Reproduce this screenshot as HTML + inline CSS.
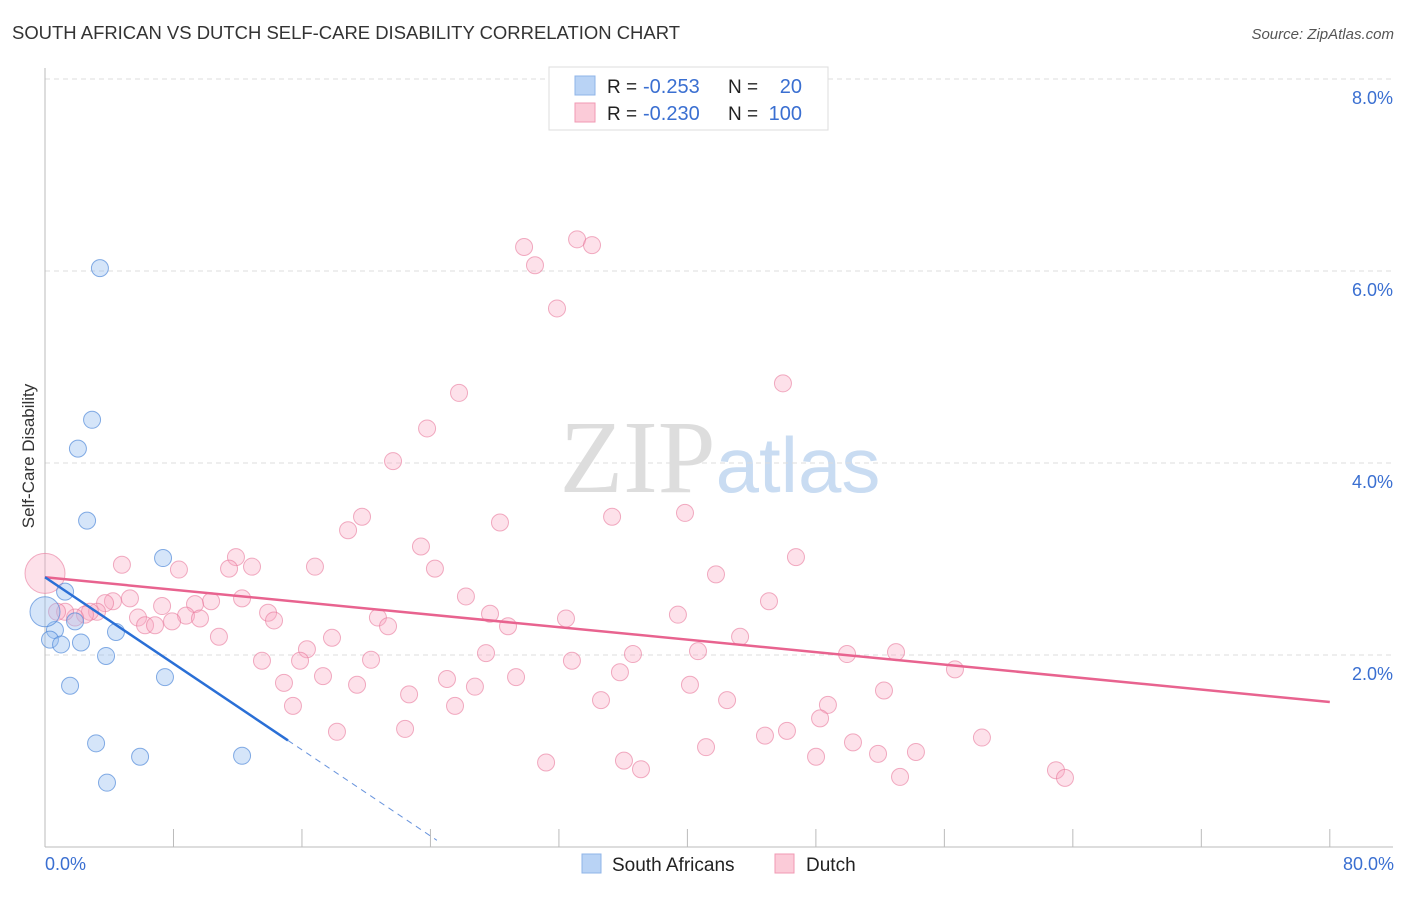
<!DOCTYPE html>
<html><head><meta charset="utf-8"><style>
body{margin:0;background:#fff;font-family:"Liberation Sans",sans-serif;}
</style></head><body>
<svg id="chart" width="1406" height="892" xmlns="http://www.w3.org/2000/svg" font-family="Liberation Sans, sans-serif">
<text x="12" y="39" font-size="18" fill="#333" textLength="668" lengthAdjust="spacingAndGlyphs">SOUTH AFRICAN VS DUTCH SELF-CARE DISABILITY CORRELATION CHART</text>
<text x="1394" y="39" font-size="15" fill="#555" font-style="italic" text-anchor="end">Source: ZipAtlas.com</text>
<text x="720" y="492" text-anchor="middle" font-size="104"><tspan font-family="Liberation Serif, serif" fill="#ddd">ZIP</tspan><tspan fill="#c9dcf2" font-size="78">atlas</tspan></text>
<text transform="translate(34,456) rotate(-90)" text-anchor="middle" font-size="17" fill="#333">Self-Care Disability</text>
<g id="grid"></g>
<g id="axes"></g>
<g id="marks"></g>
<g>
<rect x="549" y="67" width="279" height="63" fill="#fff" stroke="#ddd"/>
<rect x="575" y="76" width="20" height="19" fill="#b9d3f5" stroke="#8fb5e8"/>
<rect x="575" y="103" width="20" height="19" fill="#fbcbd8" stroke="#f09ab3"/>
<text x="607" y="93" font-size="19" fill="#222">R =</text>
<text x="643" y="93" font-size="20" fill="#3a6fd1">-0.253</text>
<text x="728" y="93" font-size="19" fill="#222">N =</text>
<text x="802" y="93" font-size="20" fill="#3a6fd1" text-anchor="end">20</text>
<text x="607" y="120" font-size="19" fill="#222">R =</text>
<text x="643" y="120" font-size="20" fill="#3a6fd1">-0.230</text>
<text x="728" y="120" font-size="19" fill="#222">N =</text>
<text x="802" y="120" font-size="20" fill="#3a6fd1" text-anchor="end">100</text>
</g>
<g>
<rect x="582" y="854" width="19" height="19" fill="#b9d3f5" stroke="#8fb5e8"/>
<text x="612" y="871" font-size="19" fill="#222">South Africans</text>
<rect x="775" y="854" width="19" height="19" fill="#fbcbd8" stroke="#f09ab3"/>
<text x="806" y="871" font-size="19" fill="#222">Dutch</text>
</g>
</svg>
<script>
const yTicks=[2,4,6,8];
const yTickLabels=["2.0%","4.0%","6.0%","8.0%"];
const xTicks=[0,8,16,24,32,40,48,56,64,72,80];
const xEndLabels=["0.0%","80.0%"];
const saX=[3.42,2.93,2.05,2.62,7.35,1.25,1.87,0.62,0.31,1.0,2.24,4.42,3.80,1.56,7.47,3.18,5.92,12.27,3.86,0];
const saY=[6.03,4.45,4.15,3.40,3.01,2.66,2.35,2.26,2.16,2.11,2.13,2.24,1.99,1.68,1.77,1.08,0.94,0.95,0.67,2.45];
const saR=[8.5,8.5,8.5,8.5,8.5,8.5,8.5,8.5,8.5,8.5,8.5,8.5,8.5,8.5,8.5,8.5,8.5,8.5,8.5,15];
const duX=[29.83,30.51,33.13,34.06,31.88,45.95,25.78,23.79,21.67,19.74,18.87,28.33,35.31,39.85,23.41,46.76,11.89,12.89,11.46,8.34,4.79,16.81,24.28,41.78,45.08,26.21,12.27,10.34,5.29,4.23,3.74,7.29,9.34,27.71,39.41,32.44,20.73,13.89,14.26,5.79,8.78,9.65,6.23,6.85,7.91,21.36,28.83,10.83,17.87,43.28,16.31,27.46,36.61,40.66,49.94,52.99,56.66,13.51,15.88,20.30,32.81,35.80,17.31,29.33,25.03,26.77,14.88,19.43,40.16,52.24,22.67,34.62,42.47,15.44,25.53,48.75,48.26,22.42,18.18,44.83,46.20,41.16,50.31,58.34,54.23,51.87,48.01,31.20,36.05,37.11,53.24,62.95,63.51,3.24,2.80,2.49,1.87,1.25,0.75,0];
const duY=[6.25,6.06,6.33,6.27,5.61,4.83,4.73,4.36,4.02,3.44,3.30,3.38,3.44,3.48,3.13,3.02,3.02,2.92,2.90,2.89,2.94,2.92,2.90,2.84,2.56,2.61,2.59,2.56,2.59,2.56,2.54,2.51,2.53,2.43,2.42,2.38,2.39,2.44,2.36,2.39,2.41,2.38,2.31,2.31,2.35,2.30,2.30,2.19,2.18,2.19,2.06,2.02,2.01,2.04,2.01,2.03,1.85,1.94,1.94,1.95,1.94,1.82,1.78,1.77,1.75,1.67,1.71,1.69,1.69,1.63,1.59,1.53,1.53,1.47,1.47,1.48,1.34,1.23,1.20,1.16,1.21,1.04,1.09,1.14,0.99,0.97,0.94,0.88,0.90,0.81,0.73,0.80,0.72,2.45,2.45,2.42,2.39,2.45,2.45,2.85];
const saTrend=[[0,2.81],[15.13,1.11]];
const saTrendDash=[[15.13,1.11],[24.4,0.07]];
const duTrend=[[0,2.81],[80,1.51]];
const NS="http://www.w3.org/2000/svg";
const X=v=>45+v*16.06, Y=v=>847-v*96;
function el(tag,attrs,parent){const e=document.createElementNS(NS,tag);for(const k in attrs)e.setAttribute(k,attrs[k]);parent.appendChild(e);return e;}
const grid=document.getElementById('grid'),axes=document.getElementById('axes'),marks=document.getElementById('marks');
yTicks.forEach((t,i)=>{
 const l=el('line',{x1:45,x2:1393,y1:Y(t),y2:Y(t),stroke:'#ddd','stroke-dasharray':'5,4'},grid);
 
 
 const tx=el('text',{x:1393,y:Y(t)+25,'text-anchor':'end','font-size':18,fill:'#3a6fd1'},grid);
 tx.textContent=yTickLabels[i];
 
 
});
const ya=el('line',{x1:45,x2:45,y1:68,y2:847,stroke:'#bbb'},axes);


const xa=el('line',{x1:45,x2:1393,y1:847,y2:847,stroke:'#bbb'},axes);


xTicks.forEach(t=>{
 const l=el('line',{x1:X(t),x2:X(t),y1:829,y2:847,stroke:'#bbb'},axes);
 
 
});
[[0,'start'],[80,'end']].forEach((p,i)=>{
 const tx=el('text',{x:p[0]===0?X(0):1394,y:870,'text-anchor':p[1],'font-size':18,fill:'#3a6fd1'},axes);
 tx.textContent=xEndLabels[i];
 
 
});
duX.forEach((x,i)=>{
 const c=el('circle',{cx:X(x),cy:Y(duY[i]),r:i===duX.length-1?20:8.5,fill:'rgba(248,170,195,0.35)',stroke:'rgba(232,120,155,0.6)','stroke-width':1},marks);
 
 
});
saX.forEach((x,i)=>{
 const c=el('circle',{cx:X(x),cy:Y(saY[i]),r:saR[i],fill:'rgba(150,190,240,0.4)',stroke:'rgba(70,130,215,0.65)','stroke-width':1},marks);
 
 
});
const dl=el('line',{x1:X(duTrend[0][0]),y1:Y(duTrend[0][1]),x2:X(duTrend[1][0]),y2:Y(duTrend[1][1]),stroke:'#e8638f','stroke-width':2.5},marks);


const sl=el('line',{x1:X(saTrend[0][0]),y1:Y(saTrend[0][1]),x2:X(saTrend[1][0]),y2:Y(saTrend[1][1]),stroke:'#2a6fd6','stroke-width':2.5},marks);


const sd=el('line',{x1:X(saTrendDash[0][0]),y1:Y(saTrendDash[0][1]),x2:X(saTrendDash[1][0]),y2:Y(saTrendDash[1][1]),stroke:'#6a95dd','stroke-width':1,'stroke-dasharray':'6,5'},marks);


</script>
</body></html>
